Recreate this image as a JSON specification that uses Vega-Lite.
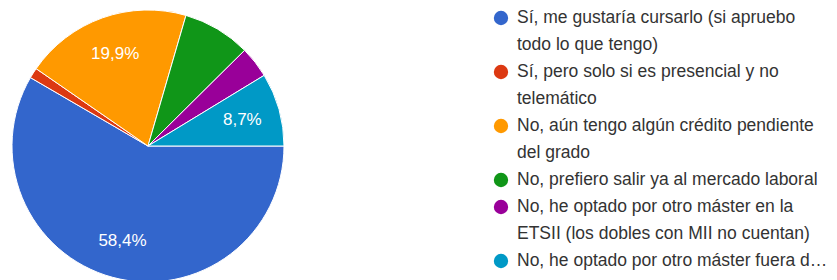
{
  "$schema": "https://vega.github.io/schema/vega-lite/v6.json",
  "background": "white",
  "padding": 0,
  "spacing": 197,
  "config": {"view": {"stroke": null}, "font": "Liberation Sans"},
  "datasets": {
    "pie": [
      {"respuesta": "Sí, me gustaría cursarlo (si apruebo todo lo que tengo)", "n": 94, "orden": 1, "etiqueta": "58,4%"},
      {"respuesta": "Sí, pero solo si es presencial y no telemático", "n": 2, "orden": 2, "etiqueta": ""},
      {"respuesta": "No, aún tengo algún crédito pendiente del grado", "n": 32, "orden": 3, "etiqueta": "19,9%"},
      {"respuesta": "No, prefiero salir ya al mercado laboral", "n": 13, "orden": 4, "etiqueta": ""},
      {"respuesta": "No, he optado por otro máster en la ETSII (los dobles con MII no cuentan)", "n": 6, "orden": 5, "etiqueta": ""},
      {"respuesta": "No, he optado por otro máster fuera d…", "n": 14, "orden": 6, "etiqueta": "8,7%"}
    ],
    "leyenda": [
      {"linea": 0, "texto": "Sí, me gustaría cursarlo (si apruebo", "respuesta": "Sí, me gustaría cursarlo (si apruebo todo lo que tengo)", "simbolo": true},
      {"linea": 1, "texto": "todo lo que tengo)", "respuesta": "Sí, me gustaría cursarlo (si apruebo todo lo que tengo)", "simbolo": false},
      {"linea": 2, "texto": "Sí, pero solo si es presencial y no", "respuesta": "Sí, pero solo si es presencial y no telemático", "simbolo": true},
      {"linea": 3, "texto": "telemático", "respuesta": "Sí, pero solo si es presencial y no telemático", "simbolo": false},
      {"linea": 4, "texto": "No, aún tengo algún crédito pendiente", "respuesta": "No, aún tengo algún crédito pendiente del grado", "simbolo": true},
      {"linea": 5, "texto": "del grado", "respuesta": "No, aún tengo algún crédito pendiente del grado", "simbolo": false},
      {"linea": 6, "texto": "No, prefiero salir ya al mercado laboral", "respuesta": "No, prefiero salir ya al mercado laboral", "simbolo": true},
      {"linea": 7, "texto": "No, he optado por otro máster en la", "respuesta": "No, he optado por otro máster en la ETSII (los dobles con MII no cuentan)", "simbolo": true},
      {"linea": 8, "texto": "ETSII (los dobles con MII no cuentan)", "respuesta": "No, he optado por otro máster en la ETSII (los dobles con MII no cuentan)", "simbolo": false},
      {"linea": 9, "texto": "No, he optado por otro máster fuera d…", "respuesta": "No, he optado por otro máster fuera d…", "simbolo": true}
    ]
  },
  "hconcat": [
    {
      "width": 296,
      "height": 280,
      "data": {"name": "pie"},
      "encoding": {
        "theta": {"field": "n", "type": "quantitative", "stack": true, "scale": {"range": [1.5708, 7.854]}},
        "order": {"field": "orden", "type": "quantitative"}
      },
      "layer": [
        {
          "mark": {"type": "arc", "outerRadius": 136, "stroke": "white", "strokeWidth": 1, "yOffset": 6, "clip": true},
          "encoding": {
            "color": {
              "field": "respuesta", "type": "nominal", "legend": null,
              "scale": {
                "domain": [
                  "Sí, me gustaría cursarlo (si apruebo todo lo que tengo)",
                  "Sí, pero solo si es presencial y no telemático",
                  "No, aún tengo algún crédito pendiente del grado",
                  "No, prefiero salir ya al mercado laboral",
                  "No, he optado por otro máster en la ETSII (los dobles con MII no cuentan)",
                  "No, he optado por otro máster fuera d…"
                ],
                "range": ["#3366cc", "#dc3912", "#ff9900", "#109618", "#990099", "#0099c6"]
              }
            }
          }
        },
        {
          "mark": {"type": "text", "radius": 98, "yOffset": 6, "color": "white", "fontSize": 17, "baseline": "middle", "align": "center"},
          "encoding": {"text": {"field": "etiqueta", "type": "nominal"}}
        }
      ]
    },
    {
      "width": 340,
      "height": 280,
      "data": {"name": "leyenda"},
      "encoding": {
        "x": {"datum": 0, "type": "quantitative", "scale": {"domain": [0, 1], "nice": false, "zero": false}, "axis": null},
        "y": {"field": "linea", "type": "quantitative", "scale": {"domain": [-0.667, 9.704], "nice": false, "zero": false, "reverse": true}, "axis": null}
      },
      "layer": [
        {
          "transform": [{"filter": "datum.simbolo"}],
          "mark": {"type": "circle", "size": 205, "opacity": 1},
          "encoding": {
            "color": {
              "field": "respuesta", "type": "nominal", "legend": null,
              "scale": {
                "domain": [
                  "Sí, me gustaría cursarlo (si apruebo todo lo que tengo)",
                  "Sí, pero solo si es presencial y no telemático",
                  "No, aún tengo algún crédito pendiente del grado",
                  "No, prefiero salir ya al mercado laboral",
                  "No, he optado por otro máster en la ETSII (los dobles con MII no cuentan)",
                  "No, he optado por otro máster fuera d…"
                ],
                "range": ["#3366cc", "#dc3912", "#ff9900", "#109618", "#990099", "#0099c6"]
              }
            }
          }
        },
        {
          "mark": {"type": "text", "align": "left", "baseline": "middle", "dx": 16, "fontSize": 17.5, "color": "#333333"},
          "encoding": {"text": {"field": "texto", "type": "nominal"}}
        }
      ]
    }
  ]
}
